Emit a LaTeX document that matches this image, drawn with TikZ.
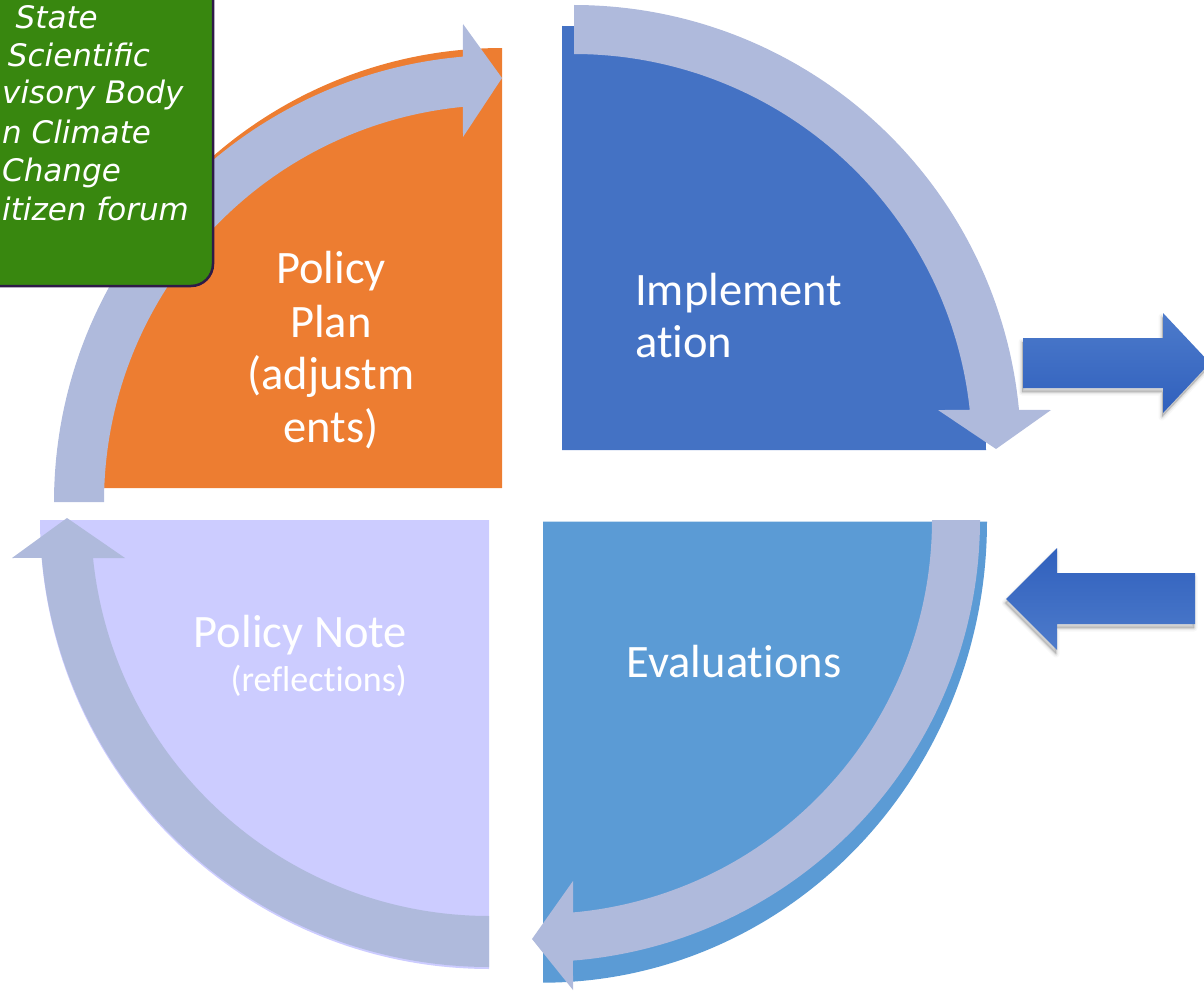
\documentclass[tikz,border=0pt]{standalone}
\usepackage{fontspec}
\setmainfont{Carlito}[Ligatures=NoCommon]
\newfontfamily\boxfont{DejaVu Sans}
\definecolor{orangec}{HTML}{ED7D31}
\definecolor{implc}{HTML}{4472C4}
\definecolor{evalc}{HTML}{5B9BD5}
\definecolor{notec}{HTML}{CCCCFF}
\definecolor{arrowc}{HTML}{AFBADC}
\definecolor{greenc}{HTML}{38870F}
\definecolor{boxedge}{HTML}{2E1A47}
\definecolor{darkA}{HTML}{3060BD}
\definecolor{lightA}{HTML}{4D7BCB}
\newcommand{\RArrPath}{(1023,338) -- (1163,338) -- (1163,313) -- (1210,363) -- (1163,413) -- (1163,388) -- (1023,388) -- cycle}
\newcommand{\LArrPath}{(1195,573) -- (1057,573) -- (1057,548) -- (1006,599) -- (1057,650) -- (1057,624) -- (1195,624) -- cycle}
\begin{document}
\begin{tikzpicture}[x=1pt,y=-1pt,
  ring/.style={fill=arrowc, draw=none},
  lbl/.style={text=white, inner sep=0pt, font=\fontsize{46.5}{53}\selectfont},
  small/.style={text=white, inner sep=0pt, font=\fontsize{36}{42}\selectfont},
  boxtxt/.style={text=white, inner sep=0pt, font=\boxfont\itshape\fontsize{31}{38}\selectfont},
  shadowlayer/.style={draw=black, fill=black, line join=round},
]
\useasboundingbox (0,0) rectangle (1204,995);
\clip (0,0) rectangle (1204,995);

% quadrants
\fill[orangec] (502,488) -- (62,488) -- plot[domain=180:270,samples=90] ({502+440*cos(\x)},{488+440*sin(\x)}) -- cycle;
\fill[implc] (562,450) -- (562,26) -- plot[domain=270:360,samples=90] ({562+424*cos(\x)},{450+424*sin(\x)}) -- cycle;
\fill[evalc] (543,521.7) -- (987,521.7) -- plot[domain=0:90,samples=90] ({543+444*cos(\x)},{521.7+461*sin(\x)}) -- cycle;
\fill[notec] (489,520) -- (489,969) -- plot[domain=90:180,samples=90] ({489+449*cos(\x)},{520+449*sin(\x)}) -- cycle;

% curved arrows
\fill[ring] plot[domain=180:265.1,samples=90] ({501+447*cos(\x)},{502+447*sin(\x)})
  -- (463,24) -- (502,78) -- (463,137)
  -- plot[domain=264.5:180,samples=90] ({501+397*cos(\x)},{502+397*sin(\x)}) -- cycle;
\fill[ring] plot[domain=270:354.6,samples=90] ({574+447*cos(\x)},{452+447*sin(\x)})
  -- (1051,410) -- (996,449) -- (938,410)
  -- plot[domain=353.94:270,samples=90] ({574+398*cos(\x)},{452+398*sin(\x)}) -- cycle;
\fill[ring] plot[domain=0:85.46,samples=90] ({538+442*cos(\x)},{520+442*sin(\x)})
  -- (573,990) -- (532,939) -- (573,881)
  -- plot[domain=84.9:0,samples=90] ({538+394*cos(\x)},{520+394*sin(\x)}) -- cycle;
\fill[ring] plot[domain=90:174.9,samples=90] ({489+449*cos(\x)},{518+449*sin(\x)})
  -- (12,558) -- (67,518) -- (125,558)
  -- plot[domain=174.23:90,samples=90] ({489+398*cos(\x)},{518+398*sin(\x)}) -- cycle;

% straight arrows with soft shadows
\begin{scope}[shift={(-1,4)}]
  \path[shadowlayer, line width=7pt, opacity=0.03] \RArrPath;
  \path[shadowlayer, line width=4pt, opacity=0.05] \RArrPath;
  \path[shadowlayer, line width=1.5pt, opacity=0.08] \RArrPath;
  \path[shadowlayer, line width=7pt, opacity=0.03] \LArrPath;
  \path[shadowlayer, line width=4pt, opacity=0.05] \LArrPath;
  \path[shadowlayer, line width=1.5pt, opacity=0.08] \LArrPath;
\end{scope}
\shade[top color=lightA, bottom color=darkA] \RArrPath;
\shade[top color=darkA, bottom color=lightA] \LArrPath;

% labels
\node[lbl, anchor=base] (plan1) at (331,283) {Policy};
\node[lbl, anchor=base] (plan2) at (331,337) {Plan};
\node[lbl, anchor=base] (plan3) at (331,389) {(adjustm};
\node[lbl, anchor=base] (plan4) at (331,442) {ents)};
\node[lbl, anchor=base west] (impl1) at (635,305) {Implement};
\node[lbl, anchor=base west] (impl2) at (635,357) {ation};
\node[lbl, anchor=base] (eval) at (734,677) {Evaluations};
\node[lbl, anchor=base east] (note1) at (407,647) {Policy Note};
\node[small, anchor=base east] (note2) at (407,691) {(reflections)};

% green box
\draw[fill=greenc, draw=boxedge, line width=2.5pt, rounded corners=22pt] (-40,-40) rectangle (213,286);
\node[boxtxt, anchor=base east] (b1) at (98,29) {State};
\node[boxtxt, anchor=base east] (b2) at (150,67) {Scientific};
\node[boxtxt, anchor=base west] (b3) at (2,104) {visory Body};
\node[boxtxt, anchor=base west] (b4) at (2,144) {n Climate};
\node[boxtxt, anchor=base west] (b5) at (2,182) {Change};
\node[boxtxt, anchor=base west] (b6) at (2,220) {itizen forum};
\end{tikzpicture}
\end{document}
